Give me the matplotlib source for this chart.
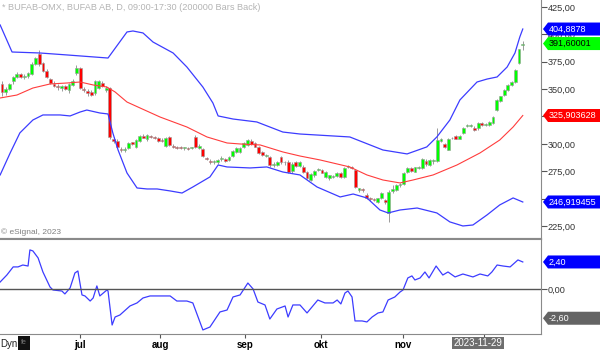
import numpy as np
import matplotlib.pyplot as plt
from matplotlib.patches import Polygon, Rectangle
from matplotlib.transforms import blended_transform_factory

plt.rcParams['font.family'] = ['Liberation Sans', 'DejaVu Sans']

# daily candles, bar index 0..140
opens = [355, 347, 350, 357, 361, 364, 361, 362, 364, 373, 382, 374, 367, 359, 355, 353, 351, 353, 349, 354,
         365, 369, 350, 348, 347, 346, 351, 356, 349, 351, 304, 303, 295, 294.5, 296, 301.5, 297, 303, 307.5, 304,
         307, 306, 305, 303.5, 298, 306, 298, 297, 296.5, 296, 296, 296, 306, 296, 295, 287, 284.5, 283, 283, 286,
         286, 285, 289, 292.5, 293, 297, 299, 303, 301, 297, 292.5, 289, 288, 281, 281, 288, 283, 283.5, 275, 283,
         280, 279, 274, 267, 271.5, 276, 276, 270, 268.5, 270, 271, 273, 270, 279, 278.5, 276, 257.5, 259, 253, 250,
         250, 247, 250.5, 249, 237, 257, 258, 262, 263, 274, 278, 274.5, 278, 278, 284.5, 281, 284, 284, 303, 300,
         294.5, 305, 307, 304.5, 310, 316.5, 316.5, 314.5, 314.5, 319, 317, 317, 319, 331, 339, 344.6, 349, 353.8, 356.5, 374,
         390]
highs = [357, 352, 356, 362, 366, 365, 364, 366, 375, 379, 386, 375, 368, 360, 357, 355, 354, 354, 356, 359,
         372, 370, 352, 350, 349, 358, 358, 357, 353, 352, 306, 304, 297, 297, 302, 302, 304, 308, 309, 309,
         308, 307, 306, 305, 306, 307, 299.5, 298, 298, 297, 297, 297, 308, 300, 296, 288, 286, 285, 286, 289,
         287, 289, 294, 297, 297, 301.5, 304, 304, 302, 298, 293.5, 291, 289, 283, 284, 289, 284, 285, 283, 284,
         284, 281, 275, 273, 276, 278, 277, 275, 272, 272, 274, 274, 279, 281, 280, 277, 260, 260, 255, 251.5,
         251, 251, 256, 250, 258, 262, 263, 264, 274, 279, 279, 279, 280, 287, 286, 286, 286, 314.5, 305, 301,
         305, 306.5, 308, 308, 315, 318, 318, 316, 320, 320, 319, 321, 325, 341, 344, 350, 354.5, 357, 368, 387,
         394]
lows = [344, 345, 349, 355, 360, 360, 359, 360, 363, 372, 371, 366, 360, 355, 352, 349, 348, 349, 346, 353,
        363, 350, 347, 344, 344, 345, 350, 352, 347, 304, 301, 296, 293, 293, 295, 299, 296, 302, 305, 303,
        305, 304, 302, 302, 297, 298, 296, 295, 295, 294.5, 294, 295, 296, 295, 288, 285, 282, 282, 282, 284,
        283, 284, 288, 292, 292, 296, 298, 299, 297, 291, 289, 288, 279, 279, 280, 282, 281, 273, 273, 279,
        279, 273, 268, 266, 270, 275, 273, 269, 267, 268.5, 270, 269, 269, 278, 277, 260, 256, 256, 250, 248,
        248, 246, 250, 245.5, 228.7, 255, 257, 261, 262, 273, 274, 274, 277, 277, 280, 280, 282, 283, 302, 296,
        294, 304, 304, 304, 309, 315, 315, 312, 313, 316, 316, 316, 318, 330, 338, 344, 348.5, 353, 356, 373,
        386]
closes = [347, 350, 355, 361, 364, 361, 362, 365, 373, 378, 373, 367, 361, 356, 353, 352, 353, 350, 355, 357,
          369, 351, 349, 346, 345, 357, 357, 353, 351, 306, 303, 297, 294.5, 295.5, 301, 299.5, 303.5, 307, 305.5, 308,
          306, 305, 303, 303, 305, 299, 297, 296.5, 296, 296.5, 295.5, 296, 297, 298, 289, 286.5, 283, 284, 285.5, 286.5,
          284, 288, 293.5, 296, 296, 301, 303.5, 300, 297.5, 292, 290, 289.5, 281, 281.5, 283.5, 283, 283.5, 274.5, 282, 280,
          283, 274, 269, 272.5, 275, 276.5, 273.5, 274, 271.5, 270.5, 273, 270, 278, 279.5, 278, 261, 259.5, 258, 251, 249.5,
          249, 250.5, 255, 246.5, 256, 258.5, 262.5, 263, 273.5, 278, 275, 278.5, 279, 286, 281.5, 285, 285, 303.5, 304, 297,
          304.5, 305.5, 304.5, 307, 314.5, 317, 317.5, 312.7, 319, 317.2, 318, 320, 324.6, 340, 343.7, 349.2, 353.8, 356.5, 367.5, 386.7,
          391.6]

# Bollinger bands and middle line, read as vertices (bar index, price)
upper_x = [-0.5, 2.7, 10.2, 17.5, 28.5, 33.6, 35.2, 37.9, 40.6, 46.0, 49.7, 54.0, 56.7, 58.1, 62.1, 68.5,
           75.5, 80.1, 93.5, 102.4, 108.9, 114.2, 116.9, 120.4, 123.1, 127.7, 130.4, 133.1, 135.8, 137.9, 139.2, 140]
upper_y = [408.6, 383.9, 383.0, 381.2, 378.4, 402.2, 403.1, 401.3, 393.0, 383.0, 370.2, 351.9, 337.3, 325.5, 322.7, 320.0,
           310.8, 309.0, 306.3, 294.4, 290.8, 297.2, 306.3, 321.8, 340.1, 356.5, 359.2, 361.1, 370.2, 383.0, 397.6, 404.9]
lower_x = [-0.5, 2.2, 4.8, 8.3, 11.0, 15.6, 18.3, 21.0, 22.8, 26.3, 28.5, 29.8, 31.2, 33.6, 36.3, 39.0, 41.7,
           45.2, 48.4, 51.3, 55.9, 58.1, 60.5, 66.7, 71.2, 75.5, 80.1, 84.7, 90.9, 94.4, 98.1, 101.6, 103.8,
           107.0, 111.6, 116.9, 120.4, 123.9, 126.6, 130.4, 133.8, 137.4, 140]
lower_y = [271.6, 291.7, 310.0, 321.8, 326.4, 326.4, 325.5, 329.1, 330.9, 328.2, 327.3, 309.9, 294.4, 273.4, 259.7, 258.8, 258.8,
           257.0, 255.1, 260.6, 269.8, 280.7, 278.9, 278.0, 278.9, 274.3, 271.6, 260.6, 251.5, 254.2, 250.6, 239.6, 236.9,
           239.6, 241.4, 236.9, 228.7, 225.0, 225.9, 235.1, 244.2, 250.6, 246.9]
mid_x = [-0.5, 4.0, 8.3, 12.9, 17.5, 21.0, 24.5, 28.2, 30.4, 33.6, 37.1, 42.5, 49.7, 55.1, 60.5, 64.0, 69.4,
         75.5, 80.1, 85.5, 93.5, 98.1, 102.4, 107.0, 110.5, 115.9, 122.3, 128.5, 133.8, 137.4, 140]
mid_y = [341.9, 344.6, 351.0, 354.7, 355.6, 356.5, 353.8, 351.9, 347.4, 338.2, 332.8, 324.5, 315.4, 306.3, 300.8, 299.9, 299.0,
         292.6, 288.9, 285.3, 278.9, 271.6, 267.0, 264.3, 267.0, 271.6, 280.7, 291.7, 303.5, 315.4, 325.9]

# lower oscillator
osc_x = [-0.5, 1.3, 3.0, 4.3, 5.6, 7.0, 7.5, 8.3, 9.7, 11.0, 12.9, 13.7, 16.1, 16.9, 18.3, 19.6, 20.4, 21.5, 22.3,
         23.7, 24.5, 25.5, 26.3, 28.2, 28.5, 29.6, 30.4, 31.7, 34.4, 36.3, 37.9, 39.8, 43.3, 45.2, 47.0, 49.7, 51.3,
         54.0, 55.9, 58.6, 60.5, 62.1, 64.0, 66.1, 67.5, 68.8, 70.7, 72.0, 73.9, 76.1, 76.9, 78.2, 80.1, 82.0, 84.9,
         86.8, 89.0, 90.1, 91.1, 92.2, 93.0, 94.1, 94.9, 96.8, 98.1, 99.5, 101.1, 102.4, 103.8, 105.6, 107.0, 107.8,
         109.1, 110.2, 111.0, 112.4, 113.7, 114.8, 116.7, 118.5, 119.9, 121.8, 123.9, 126.6, 128.5, 130.6, 131.7,
         133.1, 134.7, 136.6, 138.7, 140]
osc_y = [0.62, 1.24, 1.96, 1.96, 2.13, 2.04, 3.47, 3.38, 2.76, 1.51, 0.18, -0.09, -0.18, -0.44, 0.09, 1.42, 1.60, -0.53, -0.62,
         -1.07, -0.80, 0.27, -0.62, -0.09, -0.18, -3.2, -2.49, -2.31, -1.51, -1.24, -0.80, -0.62, -0.62, -0.62, -1.07, -1.07, -1.24,
         -3.64, -3.38, -2.04, -1.87, -0.71, -0.53, 0.53, 0.0, -1.16, -1.42, -2.67, -1.78, -1.51, -2.49, -1.42, -1.42, -2.13, -0.98,
         -1.24, -1.24, -0.98, -1.33, -0.36, -0.18, -0.71, -2.84, -2.84, -2.93, -2.49, -2.13, -2.04, -0.98, -0.71, -0.27, -0.09,
         0.98, 1.16, 0.80, 0.98, 1.51, 0.98, 2.04, 1.24, 1.51, 1.07, 1.33, 1.07, 1.33, 1.16, 1.51,
         2.13, 2.04, 1.96, 2.58, 2.40]

price_ticks = [225, 250, 275, 300, 325, 350, 375, 400, 425]
hidden_ticks = [325]  # label fully covered by the red value tag
month_pos = [21, 42.5, 65.3, 85.8, 107.8, 129.6]
month_labels = ['jul', 'aug', 'sep', 'okt', 'nov', '']

W, H = 600, 351
fig = plt.figure(figsize=(6, 3.51), dpi=100)
ax = fig.add_axes([0, 1 - 239 / H, 541 / W, 239 / H])
ax2 = fig.add_axes([0, 1 - 334 / H, 541 / W, 95 / H])

xlim = (-0.54, 144.9)
ax.set_xlim(xlim)
ax.set_ylim(213.1, 431.4)
ax2.set_xlim(xlim)
ax2.set_ylim(-4.0, 4.44)

# candles
x = np.arange(len(closes))
o = np.array(opens)
c = np.array(closes)
cols = np.where(c >= o, '#00ff00', '#ff0000')
ax.vlines(x, lows, highs, color='#9a9a9a', lw=0.7, zorder=2)
ax.bar(x, np.maximum(np.abs(c - o), 0.7), 0.75, bottom=np.minimum(o, c), color=cols,
       edgecolor='#9a9a9a', lw=0.4, zorder=3)

ax.plot(upper_x, upper_y, color='#3c3cff', lw=0.9, zorder=4)
ax.plot(lower_x, lower_y, color='#3c3cff', lw=0.9, zorder=4)
ax.plot(mid_x, mid_y, color='#ff3c3c', lw=0.8, zorder=4)

ax2.plot(osc_x, osc_y, color='#3c3cff', lw=0.9)
ax2.axhline(0, color='#555555', lw=1)

for a in (ax, ax2):
    a.spines['left'].set_visible(False)
    for s in ('right', 'top', 'bottom'):
        a.spines[s].set_color('#8a8a8a')
    a.yaxis.tick_right()
    a.tick_params(axis='y', length=4, width=0.8, color='#555555', labelsize=6.6, pad=1, labelcolor='#333333')
ax.spines['top'].set_visible(False)
ax.spines['bottom'].set_linewidth(1.5)
ax2.spines['top'].set_linewidth(1.5)

ax.set_xticks([])
ax.set_yticks(price_ticks)
ax.set_yticklabels(['' if v in hidden_ticks else f'{v:.2f}'.replace('.', ',') for v in price_ticks])
ax2.set_yticks([0])
ax2.set_yticklabels(['0,00'])
ax2.set_xticks(month_pos)
ax2.set_xticklabels(month_labels, fontsize=7, fontweight='bold')
ax2.tick_params(axis='x', length=3, color='#555555', pad=1.5)


def tag(a, y, txt, face, tc, half):
    tr = blended_transform_factory(fig.transFigure, a.transData)
    pts = [(543 / W, y), (548 / W, y + half), (1.0, y + half), (1.0, y - half), (548 / W, y - half)]
    a.add_patch(Polygon(pts, closed=True, transform=tr, facecolor=face, edgecolor='none',
                        clip_on=False, zorder=10))
    a.text(549 / W, y, txt, transform=tr, color=tc, fontsize=6.5, va='center', ha='left',
           clip_on=False, zorder=11)


ph = 6.5 * (431.4 - 213.1) / 239
oh = 6.5 * 8.44 / 95
tag(ax, 404.8878, '404,8878', '#0000ff', 'white', ph)
tag(ax, 391.60001, '391,60001', '#00ff00', 'black', ph)
tag(ax, 325.903628, '325,903628', '#ff0000', 'white', ph)
tag(ax, 246.919455, '246,919455', '#0000ff', 'white', ph)
tag(ax2, 2.40, '2,40', '#0000ff', 'white', oh)
tag(ax2, -2.60, '-2,60', '#646464', 'white', oh)

fig.text(2 / W, 1 - 7 / H, '* BUFAB-OMX, BUFAB AB, D, 09:00-17:30 (200000 Bars Back)',
         color='#b4b4b4', fontsize=6.6, va='center')
fig.text(1 / W, 1 - 232 / H, '\u00a9 eSignal, 2023', color='#808080', fontsize=6, va='center')
fig.text(0, 1 - 344 / H, 'Dyn', color='#222222', fontsize=7, va='center')
fig.add_artist(Rectangle((18 / W, 1 - 350 / H), 12 / W, 14 / H, transform=fig.transFigure,
                         facecolor='#111111', edgecolor='none'))
fig.text(24 / W, 1 - 343 / H, 'fe', color='#777777', fontsize=5, ha='center', va='center')
fig.text(478 / W, 1 - 343 / H, '2023-11-29', color='white', fontsize=7, ha='center', va='center',
         bbox=dict(boxstyle='square,pad=0.15', fc='#6e6e6e', ec='none'))

fig.savefig('out.png', dpi=100)
